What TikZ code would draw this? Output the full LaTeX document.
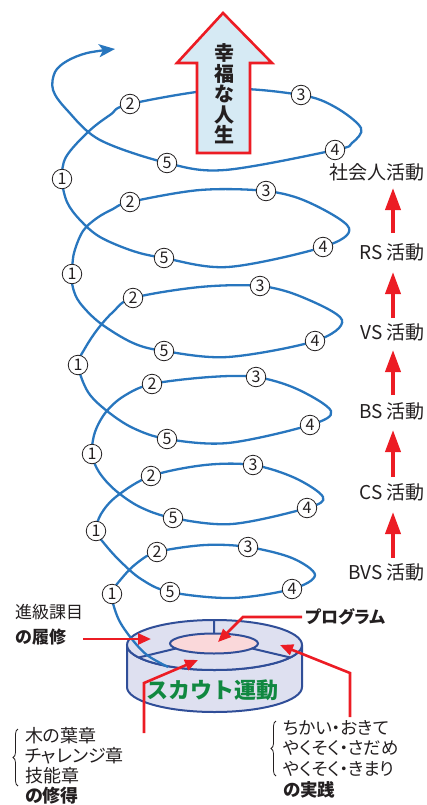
\documentclass[tikz,border=0pt]{standalone}
\usepackage{fontspec}
\setmainfont{Noto Sans CJK JP}
\newfontfamily\jpp[RawFeature=+palt]{Noto Sans CJK JP}
\usetikzlibrary{arrows.meta,decorations.pathreplacing}

\definecolor{spiral}{RGB}{40,118,190}
\definecolor{redline}{RGB}{236,28,36}
\definecolor{arrowfill}{RGB}{214,234,244}
\definecolor{ringfill}{RGB}{222,224,240}
\definecolor{ringline}{RGB}{48,78,152}
\definecolor{corefill}{RGB}{250,216,218}
\definecolor{scoutgreen}{RGB}{16,136,64}
\definecolor{ink}{RGB}{35,31,32}

\tikzset{
  num/.style={circle, fill=white, draw=ink, line width=0.8bp, minimum size=19.5bp,
    inner sep=0pt, font=\fontsize{16bp}{16bp}\selectfont, text=ink},
  spiralline/.style={draw=spiral, line width=2.3bp,
    -{Stealth[length=16bp,width=13bp,inset=4bp]}},
  redarrow/.style={draw=redline, line width=2.6bp, line join=miter,
    -{Triangle[length=13bp,width=11bp]}},
  uparrow/.style={draw=redline, line width=3.8bp, -{Triangle[length=22bp,width=15bp]}},
  stage/.style={anchor=east, inner sep=0pt, font=\fontsize{19bp}{19bp}\selectfont, text=ink},
  note/.style={anchor=west, inner sep=0pt, align=left, text=ink},
  bracebar/.style={draw=ink, line width=0.8bp, decorate,
    decoration={brace, amplitude=5bp}},
}

\begin{document}
\begin{tikzpicture}[x=1bp, y=1bp, yscale=-1]
\useasboundingbox (0,0) rectangle (426,805);

% ---------- the scout movement ring ----------
\path[fill=ringfill, draw=ringline, line width=2bp]
  (127,645) -- (127,687)
  arc[start angle=180, end angle=0, x radius=87.5, y radius=25]
  -- (302,645)
  arc[start angle=0, end angle=180, x radius=87.5, y radius=25] -- cycle;
\draw[fill=ringfill, draw=ringline, line width=2bp]
  (214.5,645) ellipse[x radius=87.5, y radius=25];
\draw[fill=corefill, draw=ringline, line width=2bp]
  (214,643.5) ellipse[x radius=44, y radius=10];
\draw[ringline, line width=2bp] (214,633.5) -- (214,620)
  (175.9,648.5) -- (138.7,657.5)
  (252.1,648.5) -- (290.3,657.5);
\node[font=\bfseries\fontsize{22bp}{22bp}\selectfont, text=scoutgreen, inner sep=0pt]
  (scout) at (212,690) {スカウト運動};

% ---------- positions of the numbered steps ----------
\coordinate (a1) at (112,594); \coordinate (b1) at (157,552); \coordinate (c1) at (248,547);
\coordinate (d1) at (292,589); \coordinate (e1) at (170,592);
\coordinate (a2) at (96,531);  \coordinate (b2) at (151,476); \coordinate (c2) at (253,465);
\coordinate (d2) at (307,508); \coordinate (e2) at (173,518);
\coordinate (a3) at (92,454);  \coordinate (b3) at (152,384); \coordinate (c3) at (256,377);
\coordinate (d3) at (310,425); \coordinate (e3) at (167,439);
\coordinate (a4) at (78,365);  \coordinate (b4) at (133,298); \coordinate (c4) at (260,286);
\coordinate (d4) at (315,341); \coordinate (e4) at (164,351);
\coordinate (a5) at (72,274);  \coordinate (b5) at (130,202); \coordinate (c5) at (266,191);
\coordinate (d5) at (323,247); \coordinate (e5) at (164,258);
\coordinate (a6) at (62,179);  \coordinate (b6) at (130,104); \coordinate (c6) at (301,95);
\coordinate (d6) at (335,150); \coordinate (e6) at (167,163);
\coordinate (base) at (168,667);
\coordinate (tip) at (115,49);

% ---------- the rising spiral ----------
\draw[spiralline] plot[smooth, tension=0.55] coordinates {
  (base) (147,655) (131,638) (118,618) (a1)
  (122,578) (137,563) (b1) (205,545) (c1) (292,558) (315,575) (d1) (232,598) (e1)
  (141,579) (119,560) (103,542) (a2)
  (101,514) (117,496) (b2) (205,465) (c2) (295,478) (323,497) (d2) (232,524) (e2)
  (140,507) (115,490) (99,472) (a3)
  (95,432) (106,412) (124,396) (b3) (210,377) (c3) (297,389) (331,411) (d3) (228,443) (e3)
  (133,428) (107,411) (88,392) (a4)
  (84,350) (97,330) (113,312) (b4) (200,287) (c4) (302,297) (342,320) (d4) (228,357) (e4)
  (133,343) (100,323) (80,303) (73,288) (a5)
  (74,253) (83,231) (97,218) (113,209) (b5) (200,190) (c5) (308,202) (349,228) (d5) (228,267) (e5)
  (133,251) (100,237) (80,220) (67,202) (a6)
  (66,157) (88,132) (110,115) (b6) (224,89) (c6) (335,107) (361,128) (352,143) (d6) (225,170) (e6)
  (100,140) (67,110) (53,90) (55,72) (67,61) (87,53) (tip)
};

\foreach \k in {1,...,6}{
  \node[num] (n1-\k) at (a\k) {1};
  \node[num] (n2-\k) at (b\k) {2};
  \node[num] (n3-\k) at (c\k) {3};
  \node[num] (n4-\k) at (d\k) {4};
  \node[num] (n5-\k) at (e\k) {5};
}

% ---------- the goal arrow ----------
\draw[fill=arrowfill, draw=redline, line width=2.6bp, line join=miter]
  (223,13) -- (272,63) -- (250,63) -- (250,153) -- (197,153) -- (197,63) -- (177,63) -- cycle;
\node[font=\bfseries\fontsize{20bp}{20.5bp}\selectfont, text=ink, align=center, inner sep=0pt]
  (goal) at (224,94) {幸\\福\\な\\人\\生};

% ---------- stages on the right ----------
\node[stage] (st6) at (425,172) {社会人活動};
\node[stage] (st5) at (425,252) {RS 活動};
\node[stage] (st4) at (425,332) {VS 活動};
\node[stage] (st3) at (425,411) {BS 活動};
\node[stage] (st2) at (425,492) {CS 活動};
\node[stage] (st1) at (425,572) {BVS 活動};
\coordinate (u5s) at (393,233); \coordinate (u5e) at (393,188);
\coordinate (u4s) at (393,318); \coordinate (u4e) at (393,272);
\coordinate (u3s) at (393,395); \coordinate (u3e) at (393,350);
\coordinate (u2s) at (393,477); \coordinate (u2e) at (393,430);
\coordinate (u1s) at (393,558); \coordinate (u1e) at (393,512);
\foreach \k in {1,...,5}{ \draw[uparrow] (u\k s) -- (u\k e); }

% ---------- captions around the ring ----------
\node[note, font=\fontsize{17bp}{25bp}\selectfont] (course) at (15,624.5)
  {進級課目\\{\bfseries の履修}};
\node[note, font=\jpp\bfseries\fontsize{17bp}{17bp}\selectfont] (prog) at (305,617) {プログラム};
\node[note, font=\jpp\fontsize{18bp}{20bp}\selectfont] (badges) at (25,766)
  {木の葉章\\チャレンジ章\\技能章\\{\bfseries の修得}};
\node[note, font=\jpp\fontsize{17.5bp}{20.7bp}\selectfont] (vows) at (283,759)
  {ちかい・おきて\\やくそく・さだめ\\やくそく・きまり\\{\bfseries の実践}};
\draw[bracebar] (18,786) -- (18,729);
\draw[bracebar] (276,776) -- (276,721);

% ---------- red pointers into the ring ----------
\coordinate (pA0) at (83,639);  \coordinate (pA) at (151,639);
\coordinate (pB0) at (302,617); \coordinate (pB1) at (243,617); \coordinate (pB) at (218,642);
\coordinate (pC0) at (144,733); \coordinate (pC1) at (144,683); \coordinate (pC) at (198,660);
\coordinate (pD0) at (350,717); \coordinate (pD1) at (350,673); \coordinate (pD) at (280,645);
\draw[redarrow] (pA0) -- (pA);
\draw[redarrow] (pB0) -- (pB1) -- (pB);
\draw[redarrow] (pC0) -- (pC1) -- (pC);
\draw[redarrow] (pD0) -- (pD1) -- (pD);
\end{tikzpicture}
\end{document}
